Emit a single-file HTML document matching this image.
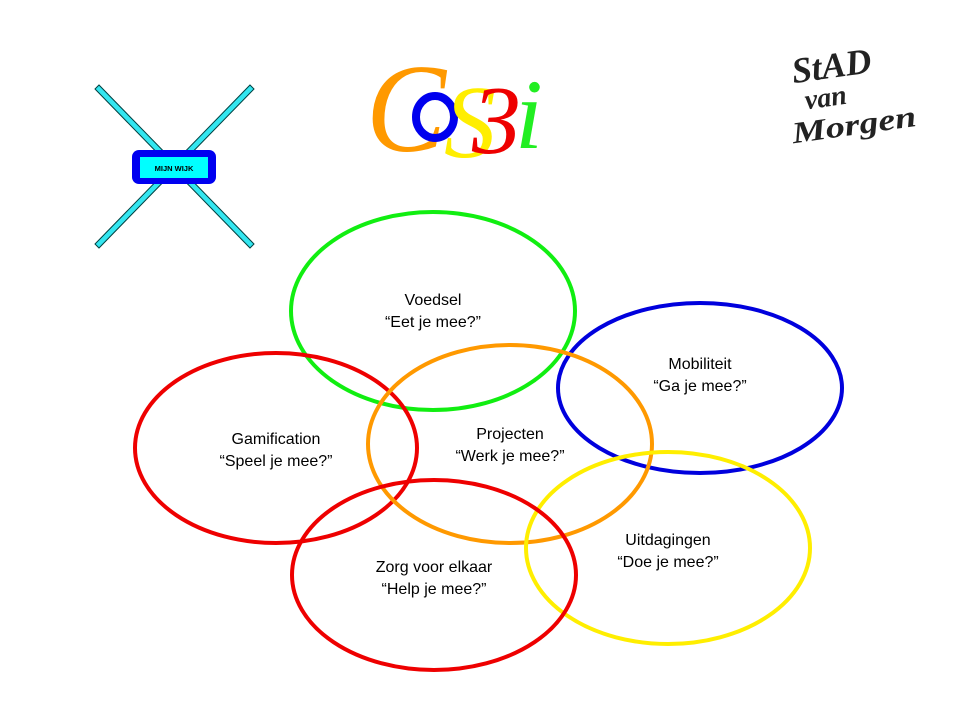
<!DOCTYPE html>
<html><head><meta charset="utf-8"><style>
html,body{margin:0;padding:0;background:#fff;width:960px;height:720px;overflow:hidden}
</style></head><body>
<svg width="960" height="720" viewBox="0 0 960 720" xmlns="http://www.w3.org/2000/svg">
<g stroke="#004040" stroke-width="1" fill="#33e6f0">
<polygon points="95,89 99,85 254,244 250,248"/>
<polygon points="250,85 254,89 99,248 95,244"/>
</g>
<rect x="132" y="150" width="84" height="34" rx="7" fill="#0000f0"/>
<rect x="140" y="157" width="68" height="21" fill="#00ffff"/>
<text x="174" y="171" font-family="Liberation Sans, sans-serif" font-size="7.5" font-weight="bold" text-anchor="middle">MIJN WIJK</text>
<g font-family="Liberation Serif, serif" font-style="italic">
<text x="366" y="151" font-size="120" fill="#ff9900" transform="scale(1,1.05) translate(0,-7)">C</text>
<ellipse cx="435" cy="117" rx="19" ry="21" fill="none" stroke="#0000ee" stroke-width="8"/>
<text x="444" y="157" font-size="104" fill="#ffee00">S</text>
<text x="472" y="153" font-size="98" fill="#ee0000">3</text>
<text x="515" y="148" font-size="100" fill="#22ee22">i</text>
</g>
<g font-family="Liberation Serif, serif" font-weight="bold" fill="#222" font-style="italic">
<text x="792" y="78" font-size="36" transform="rotate(-8 830 70)">StAD</text>
<text x="805" y="106" font-size="28" transform="rotate(-8 830 100)">van</text>
<text x="792" y="138" font-size="30" transform="rotate(-8 830 130)" textLength="125" lengthAdjust="spacingAndGlyphs">Morgen</text>
</g>
<g fill="none" stroke-width="4">
<ellipse cx="433" cy="311" rx="142" ry="99" stroke="#11ee11"/>
<ellipse cx="700" cy="388" rx="142" ry="85" stroke="#0000dd"/>
<ellipse cx="276" cy="448" rx="141" ry="95" stroke="#ee0000"/>
<ellipse cx="510" cy="444" rx="142" ry="99" stroke="#ff9900"/>
<ellipse cx="668" cy="548" rx="142" ry="96" stroke="#ffee00"/>
<ellipse cx="434" cy="575" rx="142" ry="95" stroke="#ee0000"/>
</g>
<g font-family="Liberation Sans, sans-serif" font-size="16" text-anchor="middle" fill="#000">
<text x="433" y="305">Voedsel</text><text x="433" y="327">“Eet je mee?”</text>
<text x="700" y="369">Mobiliteit</text><text x="700" y="391">“Ga je mee?”</text>
<text x="276" y="444">Gamification</text><text x="276" y="466">“Speel je mee?”</text>
<text x="510" y="439">Projecten</text><text x="510" y="461">“Werk je mee?”</text>
<text x="668" y="545">Uitdagingen</text><text x="668" y="567">“Doe je mee?”</text>
<text x="434" y="572">Zorg voor elkaar</text><text x="434" y="594">“Help je mee?”</text>
</g>
</svg>
</body></html>
